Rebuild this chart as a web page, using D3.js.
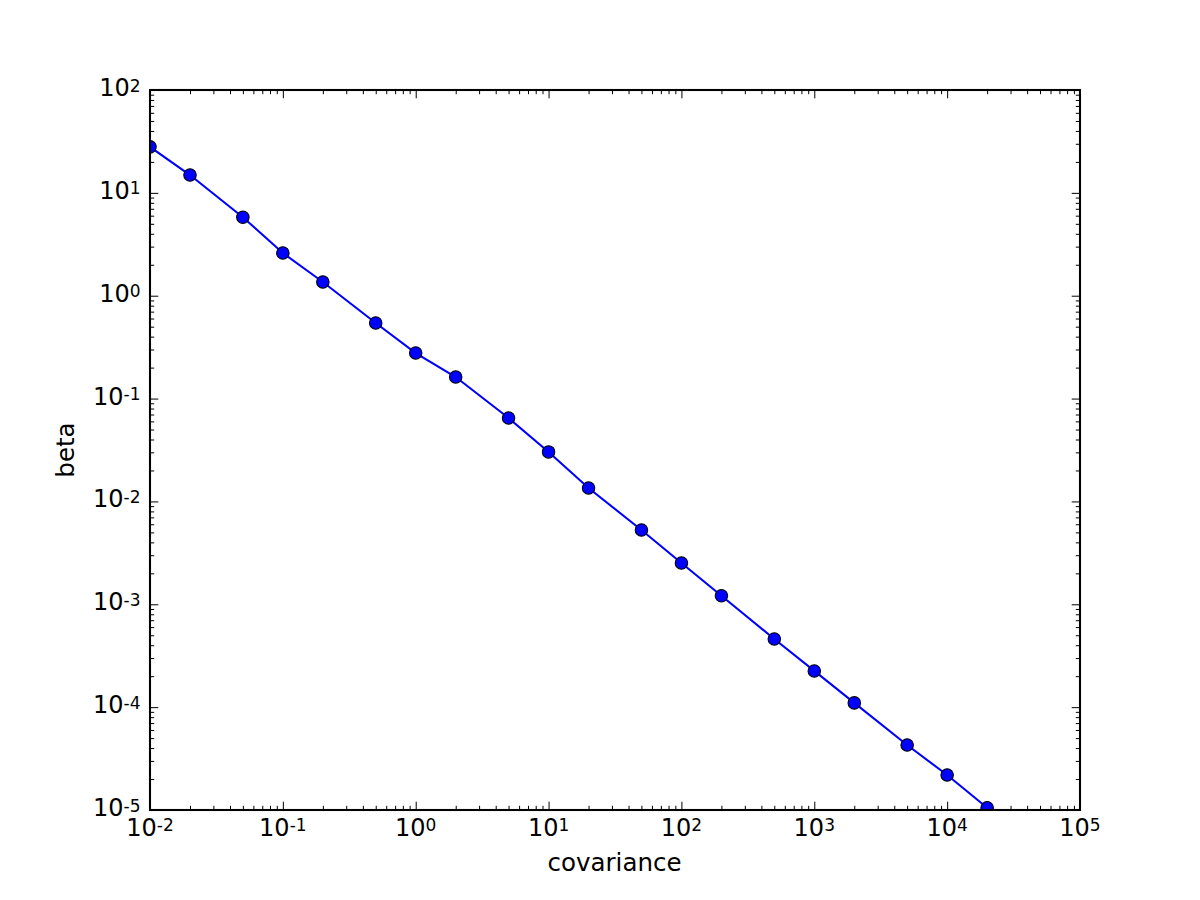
<!DOCTYPE html>
<html>
<head>
<meta charset="utf-8">
<script src="https://cdn.jsdelivr.net/npm/d3@7"></script>
<style>
  body { margin: 0; background: #fff; }
  text { font-family: "DejaVu Sans", sans-serif; fill: #000; }
</style>
</head>
<body>
<div id="chart"></div>
<script>
// values
const covariance = [0.01, 0.02, 0.05, 0.1, 0.2, 0.5, 1, 2, 5, 10, 20, 50, 100, 200, 500, 1000, 2000, 5000, 10000, 20000];
const beta = [28.0, 14.9, 5.8, 2.6, 1.36, 0.543, 0.277, 0.162, 0.0647, 0.0303, 0.0135, 0.00527, 0.00252, 0.00121, 0.00046, 0.000225, 0.00011, 4.28e-5, 2.19e-5, 1.05e-5];
const xExponents = [-2, -1, 0, 1, 2, 3, 4, 5];
const yExponents = [-5, -4, -3, -2, -1, 0, 1, 2];
const xLabel = "covariance";
const yLabel = "beta";

const W = 1200, H = 900;
const margin = { top: 90, right: 120, bottom: 90, left: 150 };
const width = W - margin.left - margin.right;
const height = H - margin.top - margin.bottom;

const svg = d3.select("#chart").append("svg")
    .attr("width", W)
    .attr("height", H);

const g = svg.append("g")
    .attr("transform", "translate(" + margin.left + "," + margin.top + ")");

const x = d3.scaleLog().domain([1e-2, 1e5]).range([0, width]);
const y = d3.scaleLog().domain([1e-5, 1e2]).range([height, 0]);

const xMajor = xExponents.map(e => Math.pow(10, e));
const yMajor = yExponents.map(e => Math.pow(10, e));
const isMajor = v => Math.abs(Math.log10(v) - Math.round(Math.log10(v))) < 1e-9;
const xMinor = x.ticks().filter(v => !isMajor(v));
const yMinor = y.ticks().filter(v => !isMajor(v));

const majorLen = 8.3, minorLen = 4.2;

function tickAxis(axisFn, scale, values, len, transform) {
  const a = g.append("g")
      .attr("transform", transform)
      .call(axisFn(scale).tickValues(values).tickSize(-len).tickFormat(""));
  a.select(".domain").remove();
  a.selectAll(".tick line").attr("stroke", "#000").attr("stroke-width", 1);
  return a;
}

// ticks on all four sides, pointing inward
tickAxis(d3.axisBottom, x, xMajor, majorLen, "translate(0," + height + ")");
tickAxis(d3.axisBottom, x, xMinor, minorLen, "translate(0," + height + ")");
tickAxis(d3.axisTop, x, xMajor, majorLen, "translate(0,0)");
tickAxis(d3.axisTop, x, xMinor, minorLen, "translate(0,0)");
tickAxis(d3.axisLeft, y, yMajor, majorLen, "translate(0,0)");
tickAxis(d3.axisLeft, y, yMinor, minorLen, "translate(0,0)");
tickAxis(d3.axisRight, y, yMajor, majorLen, "translate(" + width + ",0)");
tickAxis(d3.axisRight, y, yMinor, minorLen, "translate(" + width + ",0)");

// tick labels as 10^n
function powerLabel(sel, e) {
  sel.append("tspan").attr("font-size", 24).text("10");
  sel.append("tspan").attr("font-size", 17).attr("dy", -4.5).text(String(e));
}

g.append("g").selectAll("text")
  .data(xExponents)
  .join("text")
    .attr("x", d => x(Math.pow(10, d)))
    .attr("y", height + 25.7)
    .attr("text-anchor", "middle")
    .each(function(d) { powerLabel(d3.select(this), d); });

g.append("g").selectAll("text")
  .data(yExponents)
  .join("text")
    .attr("x", -9.5)
    .attr("y", d => y(Math.pow(10, d)) + 6)
    .attr("text-anchor", "end")
    .each(function(d) { powerLabel(d3.select(this), d); });

// data
g.append("clipPath").attr("id", "clip")
  .append("rect").attr("width", width).attr("height", height);

const pts = covariance.map((c, i) => ({ c: c, b: beta[i] }));
const plot = g.append("g").attr("clip-path", "url(#clip)");

plot.append("path")
    .datum(pts)
    .attr("fill", "none")
    .attr("stroke", "#0000ff")
    .attr("stroke-width", 2.08)
    .attr("d", d3.line().x(d => x(d.c)).y(d => y(d.b)));

plot.selectAll("circle")
  .data(pts)
  .join("circle")
    .attr("cx", d => x(d.c))
    .attr("cy", d => y(d.b))
    .attr("r", 6.25)
    .attr("fill", "#0000ff")
    .attr("stroke", "#000")
    .attr("stroke-width", 1.04);

// frame
g.append("rect")
    .attr("width", width)
    .attr("height", height)
    .attr("fill", "none")
    .attr("stroke", "#000")
    .attr("stroke-width", 2.08);

// axis titles
g.append("text")
    .attr("x", width / 2 - 0.5)
    .attr("y", height + 61)
    .attr("text-anchor", "middle")
    .attr("font-size", 24.5)
    .text(xLabel);

g.append("text")
    .attr("transform", "translate(" + (-76) + "," + (height / 2) + ") rotate(-90)")
    .attr("text-anchor", "middle")
    .attr("font-size", 24.5)
    .text(yLabel);
</script>
</body>
</html>
